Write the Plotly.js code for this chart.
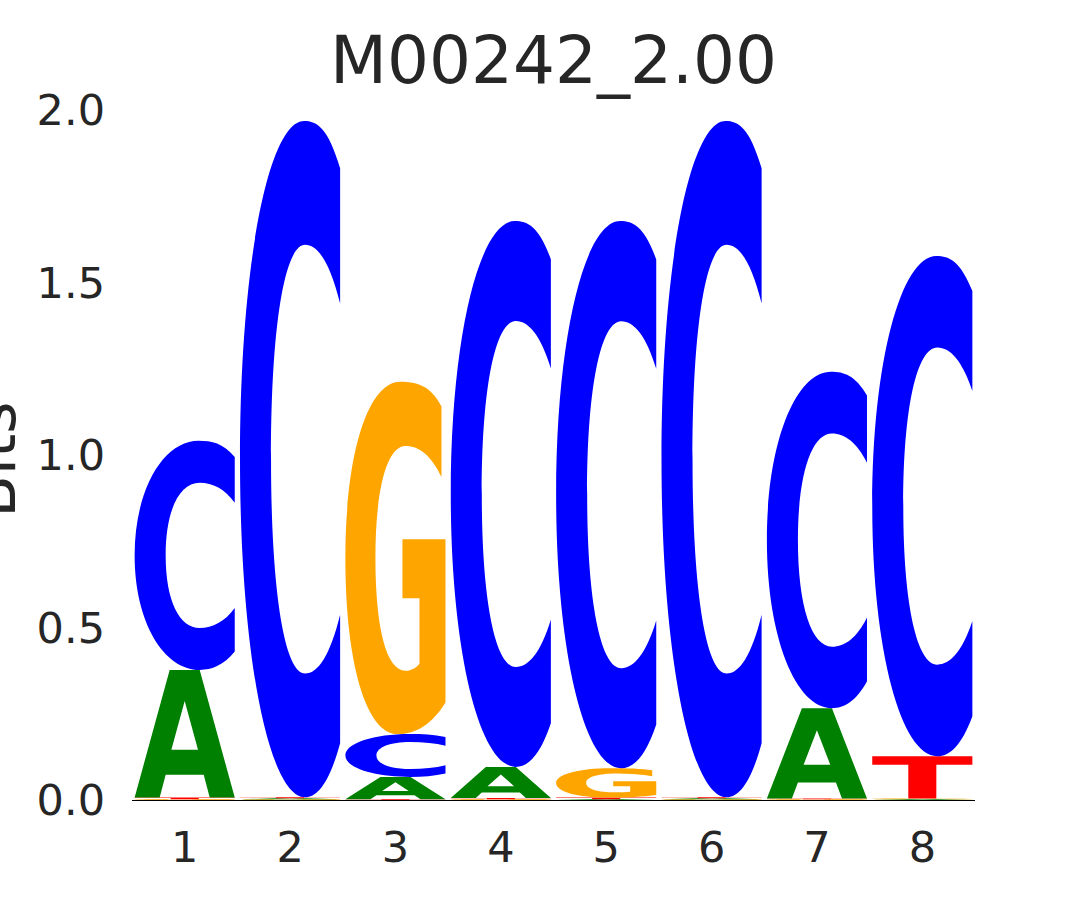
<!DOCTYPE html>
<html>
<head>
<meta charset="utf-8">
<script src="https://cdn.plot.ly/plotly-3.0.1.min.js"></script>
<style>html,body{margin:0;padding:0;background:#fff;}#chart{width:1080px;height:900px;}</style>
</head>
<body>
<div id="chart"></div>
<script>
// ---- data (information content in bits per letter, per position) ----
const positions = [1, 2, 3, 4, 5, 6, 7, 8];
const letters = ['A', 'C', 'G', 'T'];
const bitsA = [0.370, 0.003, 0.065, 0.090, 0.002, 0.003, 0.262, 0.002];
const bitsC = [0.664, 1.960, 0.124, 1.582, 1.586, 1.960, 0.975, 1.450];
const bitsG = [0.002, 0.002, 1.021, 0.002, 0.085, 0.002, 0.002, 0.002];
const bitsT = [0.005, 0.003, 0.002, 0.004, 0.005, 0.003, 0.002, 0.123];
const yTicks = [0, 0.5, 1.0, 1.5, 2.0];
const titleText = 'M00242_2.00';
const yTitle = 'Bits';

// ---- styles ----
const letterColors = {A: '#008000', C: '#0000ff', G: '#ffa500', T: '#ff0000'};
const textColor = '#262626';
const font = 'DejaVu Sans, sans-serif';
const letterWidth = 0.95;

// glyph outlines in a unit box (u: 0..1 left->right, v: 0..1 bottom->top)
const GLYPHS = {
  A: [
    ['M', 0, 0], ['L', 0.35, 1], ['L', 0.65, 1], ['L', 1, 0], ['L', 0.75, 0],
    ['L', 0.69, 0.178], ['L', 0.31, 0.178], ['L', 0.25, 0], ['Z'],
    ['M', 0.5, 0.756], ['L', 0.367, 0.375], ['L', 0.633, 0.375], ['Z']
  ],
  C: [
    ['M', 1, 0.93],
    ['C', 0.88, 0.99, 0.77, 1, 0.64, 1],
    ['C', 0.29, 1, 0, 0.79, 0, 0.5],
    ['C', 0, 0.21, 0.29, 0, 0.65, 0],
    ['C', 0.77, 0, 0.89, 0.02, 1, 0.08],
    ['L', 1, 0.27],
    ['C', 0.9, 0.21, 0.78, 0.183, 0.65, 0.183],
    ['C', 0.45, 0.183, 0.31, 0.3, 0.31, 0.5],
    ['C', 0.31, 0.7, 0.45, 0.817, 0.65, 0.817],
    ['C', 0.78, 0.817, 0.9, 0.79, 1, 0.73],
    ['Z']
  ],
  G: [
    ['M', 0.96, 0.93],
    ['C', 0.85, 0.99, 0.71, 1, 0.55, 1],
    ['C', 0.22, 1, 0, 0.79, 0, 0.5],
    ['C', 0, 0.2, 0.21, 0, 0.52, 0],
    ['C', 0.71, 0, 0.87, 0.03, 1, 0.09],
    ['L', 1, 0.553], ['L', 0.57, 0.553], ['L', 0.57, 0.386], ['L', 0.74, 0.386], ['L', 0.74, 0.2],
    ['C', 0.7, 0.186, 0.65, 0.18, 0.6, 0.18],
    ['C', 0.41, 0.18, 0.3, 0.3, 0.3, 0.5],
    ['C', 0.3, 0.7, 0.42, 0.818, 0.6, 0.818],
    ['C', 0.74, 0.818, 0.86, 0.79, 0.96, 0.73],
    ['Z']
  ],
  T: [
    ['M', 0, 1], ['L', 1, 1], ['L', 1, 0.8], ['L', 0.64, 0.8], ['L', 0.64, 0],
    ['L', 0.36, 0], ['L', 0.36, 0.8], ['L', 0, 0.8], ['Z']
  ]
};

function glyphPath(letter, x0, x1, y0, y1) {
  const sx = u => (x0 + u * (x1 - x0)).toFixed(5);
  const sy = v => (y0 + v * (y1 - y0)).toFixed(5);
  return GLYPHS[letter].map(seg => {
    const cmd = seg[0];
    if (cmd === 'Z') return 'Z';
    const pts = [];
    for (let i = 1; i < seg.length; i += 2) pts.push(sx(seg[i]) + ',' + sy(seg[i + 1]));
    return cmd + pts.join(' ');
  }).join(' ');
}

const bitsBy = {A: bitsA, C: bitsC, G: bitsG, T: bitsT};
const shapes = [];
positions.forEach((p, i) => {
  const stack = letters.map(l => ({l, h: bitsBy[l][i]})).sort((a, b) => a.h - b.h);
  let base = 0;
  stack.forEach(s => {
    shapes.push({
      type: 'path', xref: 'x', yref: 'y', layer: 'above',
      path: glyphPath(s.l, p - letterWidth / 2, p + letterWidth / 2, base, base + s.h),
      fillcolor: letterColors[s.l], fillrule: 'evenodd',
      line: {width: 0}
    });
    base += s.h;
  });
});

// invisible trace so axes are built from the positions / stacked totals
const totals = positions.map((p, i) => letters.reduce((s, l) => s + bitsBy[l][i], 0));
const traces = [{
  type: 'scatter', mode: 'markers', x: positions, y: totals,
  marker: {opacity: 0}, hoverinfo: 'skip', showlegend: false
}];

const layout = {
  width: 1080, height: 900,
  margin: {l: 132, r: 105, t: 110, b: 100},
  paper_bgcolor: '#ffffff', plot_bgcolor: '#ffffff',
  showlegend: false,
  font: {family: font, color: textColor},
  title: {
    text: titleText, font: {family: font, size: 66, color: textColor},
    x: 0.5, xref: 'paper', xanchor: 'center', y: 0.933, yref: 'container', yanchor: 'middle'
  },
  xaxis: {
    range: [0.5, 8.5], tickvals: positions, ticktext: positions.map(String),
    showgrid: false, zeroline: false, showline: false, ticks: '',
    tickfont: {family: font, size: 43, color: textColor}, ticklabelstandoff: 18
  },
  yaxis: {
    range: [0, 2], tickvals: yTicks, tickformat: '.1f',
    showgrid: false, zeroline: true, zerolinecolor: '#000000', zerolinewidth: 1,
    showline: false, ticks: '',
    tickfont: {family: font, size: 43, color: textColor}, ticklabelstandoff: 26
  },
  annotations: [{
    text: yTitle, textangle: -90, showarrow: false,
    xref: 'paper', x: 0, xanchor: 'center', xshift: -138,
    yref: 'paper', y: 0.493, yanchor: 'middle',
    font: {family: font, size: 62, color: textColor}
  }],
  shapes: shapes
};

Plotly.newPlot('chart', traces, layout, {staticPlot: true, displayModeBar: false});
</script>
</body>
</html>
